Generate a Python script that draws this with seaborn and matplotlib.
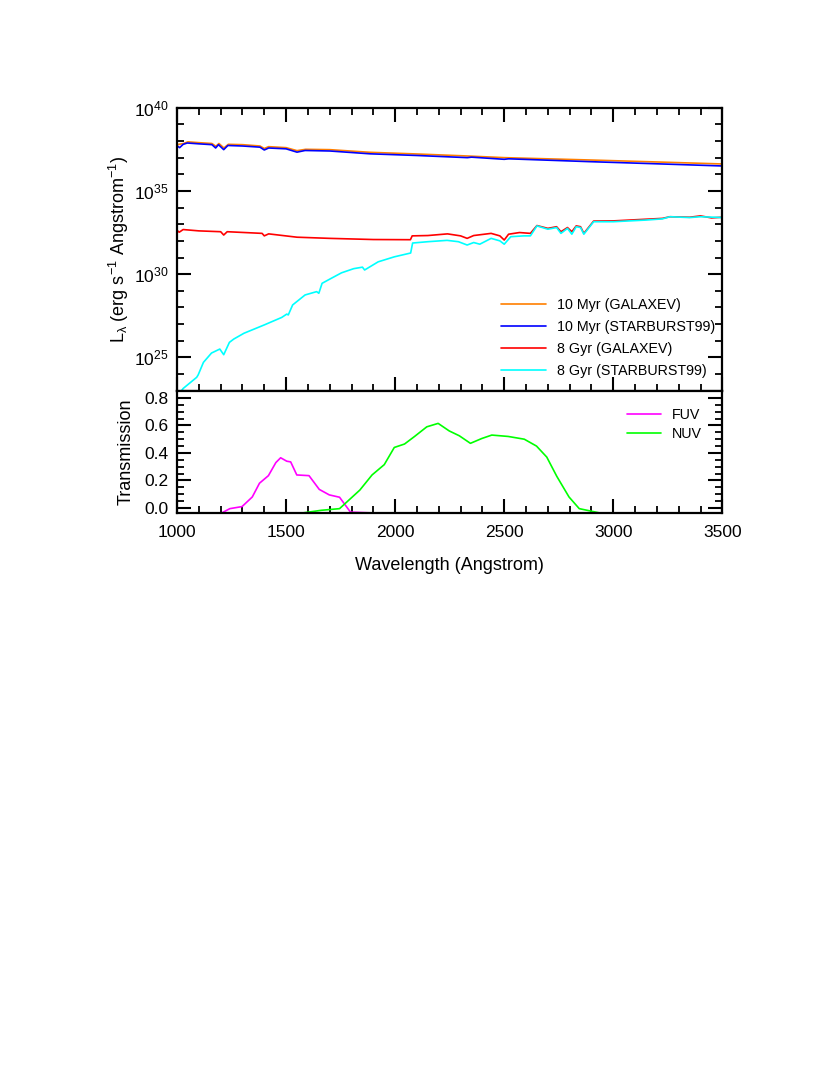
import numpy as np
import pandas as pd
import matplotlib
matplotlib.use('Agg')
import matplotlib.pyplot as plt
import seaborn as sns
from matplotlib.ticker import MultipleLocator, FixedLocator, NullFormatter

# Spektri (log10 L_lambda) procitani sa slike
wl_10myr_gal = [1000, 1030, 1050, 1100, 1160, 1178, 1192, 1215, 1235, 1300, 1380, 1400, 1420,
                1500, 1550, 1590, 1700, 1885, 2100, 2330, 2500, 2890, 3200, 3500]
logL_10myr_gal = [37.78, 37.85, 37.95, 37.9, 37.85, 37.68, 37.85, 37.58, 37.8, 37.78, 37.7, 37.55, 37.66,
                  37.6, 37.42, 37.5, 37.48, 37.32, 37.22, 37.1, 37.0, 36.86, 36.74, 36.62]

wl_10myr_sb99 = [1000, 1012, 1028, 1047, 1100, 1160, 1177, 1190, 1214, 1233, 1300, 1380, 1400, 1420,
                 1500, 1550, 1587, 1700, 1885, 2100, 2331, 2350, 2500, 2520, 2890, 3200, 3500]
logL_10myr_sb99 = [37.71, 37.6, 37.8, 37.88, 37.83, 37.78, 37.58, 37.78, 37.48, 37.73, 37.7, 37.63, 37.46, 37.58,
                   37.53, 37.33, 37.43, 37.4, 37.23, 37.13, 37.0, 37.03, 36.9, 36.93, 36.76, 36.63, 36.5]

wl_8gyr_gal = [1000, 1010, 1028, 1100, 1200, 1214, 1230, 1390, 1400, 1420, 1550, 1700, 1900, 2070,
               2078, 2150, 2240, 2300, 2330, 2360, 2440, 2480, 2500, 2520, 2570, 2620, 2650, 2700,
               2740, 2760, 2790, 2810, 2830, 2850, 2865, 2910, 3000, 3150, 3225, 3260, 3350, 3400,
               3450, 3500]
logL_8gyr_gal = [32.63, 32.52, 32.68, 32.6, 32.55, 32.35, 32.55, 32.45, 32.3, 32.42, 32.22, 32.15, 32.08, 32.07,
                 32.3, 32.32, 32.42, 32.3, 32.15, 32.32, 32.45, 32.3, 32.05, 32.4, 32.5, 32.45, 32.92, 32.75,
                 32.85, 32.55, 32.8, 32.55, 32.9, 32.85, 32.45, 33.19, 33.2, 33.3, 33.35, 33.45, 33.42, 33.5,
                 33.38, 33.42]

wl_8gyr_sb99 = [1010, 1028, 1090, 1097, 1121, 1158, 1196, 1214, 1240, 1260, 1307, 1400, 1480, 1503,
                1510, 1530, 1587, 1640, 1650, 1665, 1700, 1754, 1810, 1850, 1860, 1922, 1996, 2071,
                2080, 2150, 2238, 2290, 2330, 2360, 2388, 2440, 2480, 2500, 2530, 2590, 2620, 2650,
                2700, 2740, 2760, 2790, 2810, 2830, 2850, 2865, 2910, 3000, 3150, 3225, 3260, 3350,
                3400, 3500]
logL_8gyr_sb99 = [22.8, 23.13, 23.8, 23.95, 24.7, 25.26, 25.5, 25.16, 25.9, 26.1, 26.45, 26.95, 27.4, 27.6,
                  27.55, 28.15, 28.75, 28.95, 28.85, 29.45, 29.7, 30.08, 30.33, 30.42, 30.25, 30.74, 31.04, 31.27,
                  31.87, 31.95, 32.03, 31.95, 31.75, 31.9, 31.8, 32.15, 32.0, 31.8, 32.25, 32.3, 32.3, 32.9,
                  32.7, 32.8, 32.45, 32.75, 32.4, 32.85, 32.8, 32.4, 33.15, 33.15, 33.25, 33.32, 33.45, 33.4,
                  33.45, 33.4]

# GALEX filtri
wl_fuv = [1205, 1242, 1298, 1345, 1378, 1419, 1453, 1475, 1503, 1521, 1549, 1605, 1652, 1698, 1745,
          1795, 1894]
tr_fuv = [-0.036, -0.005, 0.01, 0.08, 0.18, 0.235, 0.33, 0.365, 0.34, 0.335, 0.24, 0.235, 0.135, 0.095,
          0.078, -0.03, -0.036]

wl_nuv = [1577, 1661, 1745, 1838, 1894, 1950, 1996, 2043, 2089, 2145, 2197, 2248, 2294, 2345, 2397,
          2443, 2518, 2592, 2648, 2695, 2741, 2797, 2844, 2937]
tr_nuv = [-0.036, -0.017, -0.005, 0.13, 0.24, 0.315, 0.44, 0.465, 0.52, 0.59, 0.615, 0.56, 0.525, 0.47,
          0.505, 0.53, 0.52, 0.5, 0.45, 0.37, 0.23, 0.08, -0.005, -0.036]

spectra = [
    ('10 Myr (GALAXEV)', wl_10myr_gal, logL_10myr_gal, '#FF7F00'),
    ('10 Myr (STARBURST99)', wl_10myr_sb99, logL_10myr_sb99, '#0000FF'),
    ('8 Gyr (GALAXEV)', wl_8gyr_gal, logL_8gyr_gal, '#FF0000'),
    ('8 Gyr (STARBURST99)', wl_8gyr_sb99, logL_8gyr_sb99, '#00FFFF'),
]
filters = [
    ('FUV', wl_fuv, tr_fuv, '#FF00FF'),
    ('NUV', wl_nuv, tr_nuv, '#00FF00'),
]

sns.set_style('ticks')
plt.rcParams['font.family'] = ['Liberation Sans', 'DejaVu Sans']
plt.rcParams['mathtext.default'] = 'regular'
plt.rcParams['axes.linewidth'] = 1.6
plt.rcParams['axes.edgecolor'] = 'black'
for k in ['text.color', 'axes.labelcolor', 'xtick.color', 'ytick.color']:
    plt.rcParams[k] = 'black'


def stil_osi(ax, top=True):
    ax.tick_params(which='both', direction='in', top=top, right=True, color='black',
                   labelsize=12.5)
    ax.tick_params(axis='x', which='both', pad=9)
    ax.tick_params(axis='y', which='both', pad=6)
    ax.tick_params(which='major', length=10, width=1.5)
    ax.tick_params(which='minor', length=5, width=1.3)
    ax.xaxis.set_major_locator(MultipleLocator(500))
    ax.xaxis.set_minor_locator(MultipleLocator(100))
    ax.set_xlim(1000, 3500)


fig = plt.figure(figsize=(8.3, 10.75), dpi=100)
ax1 = fig.add_axes([0.2133, 0.6366, 0.657, 0.2632])
ax2 = fig.add_axes([0.2133, 0.5230, 0.657, 0.1136])

# 1. Spektri
for label, wl, logL, col in spectra:
    df = pd.DataFrame({'wl': wl, 'L': 10.0 ** np.array(logL)})
    sns.lineplot(data=df, x='wl', y='L', ax=ax1, color=col, lw=1.2, label=label,
                 sort=False, estimator=None)
ax1.set_yscale('log')
ax1.set_ylim(1e23, 1e40)
stil_osi(ax1)
ax1.yaxis.set_major_locator(FixedLocator([1e25, 1e30, 1e35, 1e40]))
ax1.set_yticklabels([r'$10^{25}$', r'$10^{30}$', r'$10^{35}$', r'$10^{40}$'])
ax1.yaxis.set_minor_locator(FixedLocator([10.0 ** k for k in range(23, 41)]))
ax1.yaxis.set_minor_formatter(NullFormatter())
ax1.xaxis.set_major_formatter(NullFormatter())
ax1.set_xlabel('')
ax1.set_ylabel(r'L$_\lambda$ (erg s$^{-1}$ Angstrom$^{-1}$)', fontsize=13, labelpad=2)
ax1.legend(loc='lower left', bbox_to_anchor=(0.595, 0.045), frameon=False, fontsize=10.3,
           handlelength=3.1, handletextpad=0.75, labelspacing=0.55, borderpad=0, borderaxespad=0)

# 2. Transmisija filtara
for label, wl, tr, col in filters:
    df = pd.DataFrame({'wl': wl, 'tr': tr})
    sns.lineplot(data=df, x='wl', y='tr', ax=ax2, color=col, lw=1.2, label=label,
                 sort=False, estimator=None)
ax2.set_ylim(-0.035, 0.853)
stil_osi(ax2, top=False)
ax2.yaxis.set_major_locator(MultipleLocator(0.2))
ax2.yaxis.set_minor_locator(MultipleLocator(0.05))
ax2.set_yticklabels(['%.1f' % v for v in ax2.get_yticks()])
ax2.set_ylabel('Transmission', fontsize=13, labelpad=7)
ax2.set_xlabel('Wavelength (Angstrom)', fontsize=13, labelpad=12)
ax2.legend(loc='upper left', bbox_to_anchor=(0.825, 0.86), frameon=False, fontsize=10.3,
           handlelength=2.4, handletextpad=0.75, labelspacing=0.4, borderpad=0, borderaxespad=0)

fig.savefig('out.png', dpi=100)
